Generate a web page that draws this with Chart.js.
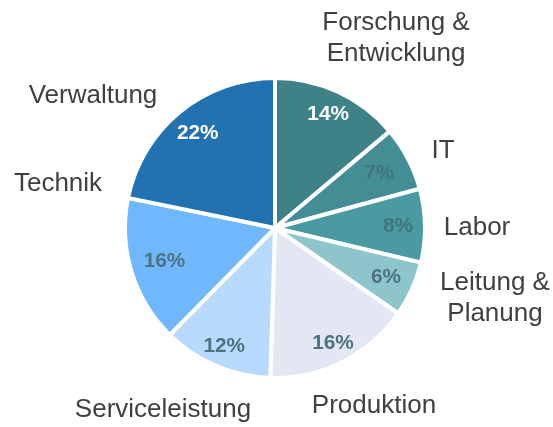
<!DOCTYPE html>
<html>
<head>
<meta charset="utf-8">
<script src="https://cdn.jsdelivr.net/npm/chart.js@4/dist/chart.umd.min.js"></script>
<style>
  html, body { margin: 0; padding: 0; background: #ffffff; }
  #wrap { width: 553px; height: 427px; position: relative; }
</style>
</head>
<body>
<div id="wrap"><canvas id="c" width="553" height="427"></canvas></div>
<script>
// ---- data ----
const categories = [
  "Forschung &\nEntwicklung", "IT", "Labor", "Leitung &\nPlanung",
  "Produktion", "Serviceleistung", "Technik", "Verwaltung"
];
const shares = [14, 7, 8, 6, 16, 12, 16, 22];
const shareLabels = ["14%", "7%", "8%", "6%", "16%", "12%", "16%", "22%"];

// ---- styling / layout ----
const sliceColors = ["#3e8287", "#438e94", "#4a9aa1", "#8ec5cb", "#e3e7f4", "#b8dbfd", "#70b8fd", "#2271b0"];
const pctColors = ["#ffffff", "#41747c", "#41747c", "#4d7381", "#4d7381", "#4d7381", "#4d7381", "#ffffff"];
// radial position of the percentage label, as a fraction of the outer radius
const pctRadius = [0.84, 0.785, 0.82, 0.81, 0.86, 0.86, 0.77, 0.815];
// category label anchor offsets from the pie centre (dx, first-baseline dy)
const labelOffsets = [
  [121, -198], [168, -70], [202, 7], [220, 62],
  [99, 185], [-112, 189], [-217, -37], [-182, -125]
];

const labelPlugin = {
  id: 'sliceLabels',
  afterDatasetsDraw(chart) {
    const ctx = chart.ctx;
    const meta = chart.getDatasetMeta(0);
    meta.data.forEach((arc, i) => {
      const p = arc.getProps(['x', 'y', 'startAngle', 'endAngle', 'outerRadius'], true);
      const mid = (p.startAngle + p.endAngle) / 2;
      const r = p.outerRadius * pctRadius[i];
      ctx.save();
      ctx.font = "bold 20.8px 'Liberation Sans', Arial, sans-serif";
      ctx.fillStyle = pctColors[i];
      ctx.textAlign = 'center';
      ctx.textBaseline = 'middle';
      ctx.fillText(shareLabels[i], p.x + Math.cos(mid) * r, p.y + Math.sin(mid) * r);
      ctx.font = "26px 'Liberation Sans', Arial, sans-serif";
      ctx.fillStyle = '#404040';
      ctx.textBaseline = 'alphabetic';
      const lines = categories[i].split('\n');
      lines.forEach((ln, k) => {
        ctx.fillText(ln, p.x + labelOffsets[i][0], p.y + labelOffsets[i][1] + k * 31);
      });
      ctx.restore();
    });
  }
};

new Chart(document.getElementById('c'), {
  type: 'pie',
  data: {
    labels: categories,
    datasets: [{
      data: shares,
      backgroundColor: sliceColors,
      borderColor: '#ffffff',
      borderWidth: 4
    }]
  },
  options: {
    responsive: false,
    animation: false,
    radius: 150,
    layout: { padding: { left: 125, right: 128, top: 78, bottom: 49 } },
    plugins: { legend: { display: false }, tooltip: { enabled: false } }
  },
  plugins: [labelPlugin]
});
</script>
</body>
</html>
